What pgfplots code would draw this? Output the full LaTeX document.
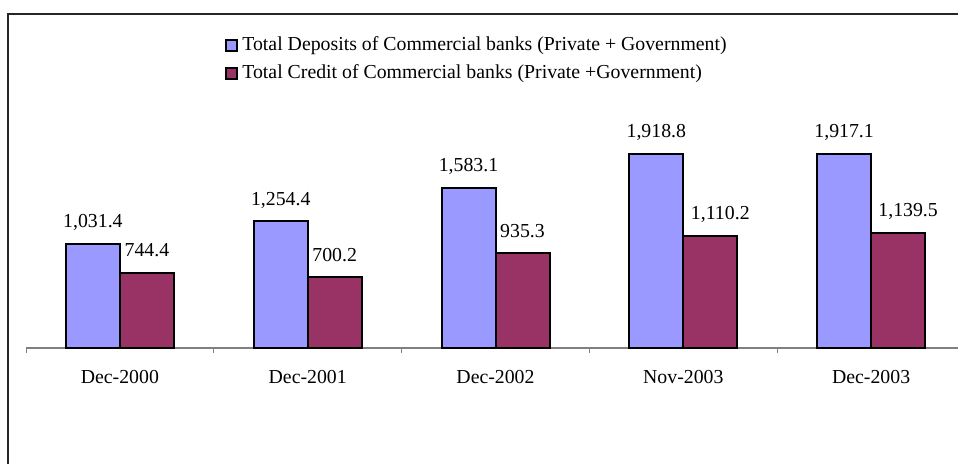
\documentclass[border=0pt]{standalone}
\usepackage{fontspec}
\setmainfont{Liberation Serif}
\usepackage{pgfplots}
\pgfplotsset{compat=1.18}
\definecolor{depositblue}{HTML}{9999FF}
\definecolor{creditplum}{HTML}{993366}
\begin{document}
\fontsize{19.8bp}{23.5bp}\selectfont
\begin{tikzpicture}[x=1bp,y=1bp]
\useasboundingbox (0,0) rectangle (958,464);
% outer frame (only its left and top edges fall inside the page)
\draw[line width=1.2bp, black!85] (8,-20) -- (8,450) -- (980,450);
\begin{axis}[
  at={(26bp,116bp)}, anchor=south west,
  scale only axis, width=939bp, height=253bp,
  xmin=-0.5, xmax=4.5, ymin=0, ymax=2500,
  clip=false,
  ybar=0pt, bar width=54bp,
  axis x line*=bottom, axis y line=none,
  x axis line style={draw=gray, line width=1.2bp, -},
  xtick={0,1,2,3,4},
  xticklabels={Dec-2000,Dec-2001,Dec-2002,Nov-2003,Dec-2003},
  major x tick style={draw=none},
  minor xtick={-0.5,0.5,1.5,2.5,3.5,4.5},
  minor x tick style={draw=gray, line width=1bp},
  minor tick length=5bp,
  tick align=outside,
  xticklabel style={anchor=base, yshift=-31bp},
  nodes near coords,
  visualization depends on={\thisrow{dx} \as \labeldx},
  nodes near coords style={anchor=south, inner sep=0pt, text depth=0pt,
    yshift=15bp, xshift=\labeldx bp},
  legend style={draw=none, fill=none, at={(0.2087,1.247)}, anchor=north west,
    row sep=7.4bp, column sep=2bp},
  legend cell align=left,
  legend image code/.code={\draw[#1, draw=black, line width=2.2bp] (0bp,-5.5bp) rectangle (11bp,5.5bp);},
  /pgf/number format/fixed,
  /pgf/number format/fixed zerofill,
  /pgf/number format/precision=1,
  /pgf/number format/1000 sep={,},
  /pgf/number format/assume math mode=true,
]
\addplot[fill=depositblue, draw=black, line width=2bp]
  table {
    x y      dx
    0 1031.4 0
    1 1254.4 0
    2 1583.1 0
    3 1918.8 0
    4 1917.1 0
  };
\addplot[fill=creditplum, draw=black, line width=2bp]
  table {
    x y      dx
    0 744.4  0
    1 700.2  0
    2 935.3  0
    3 1110.2 10
    4 1139.5 10
  };
\legend{Total Deposits of Commercial banks (Private + Government),
        Total Credit of Commercial banks (Private +Government)}
\end{axis}
\end{tikzpicture}
\end{document}
